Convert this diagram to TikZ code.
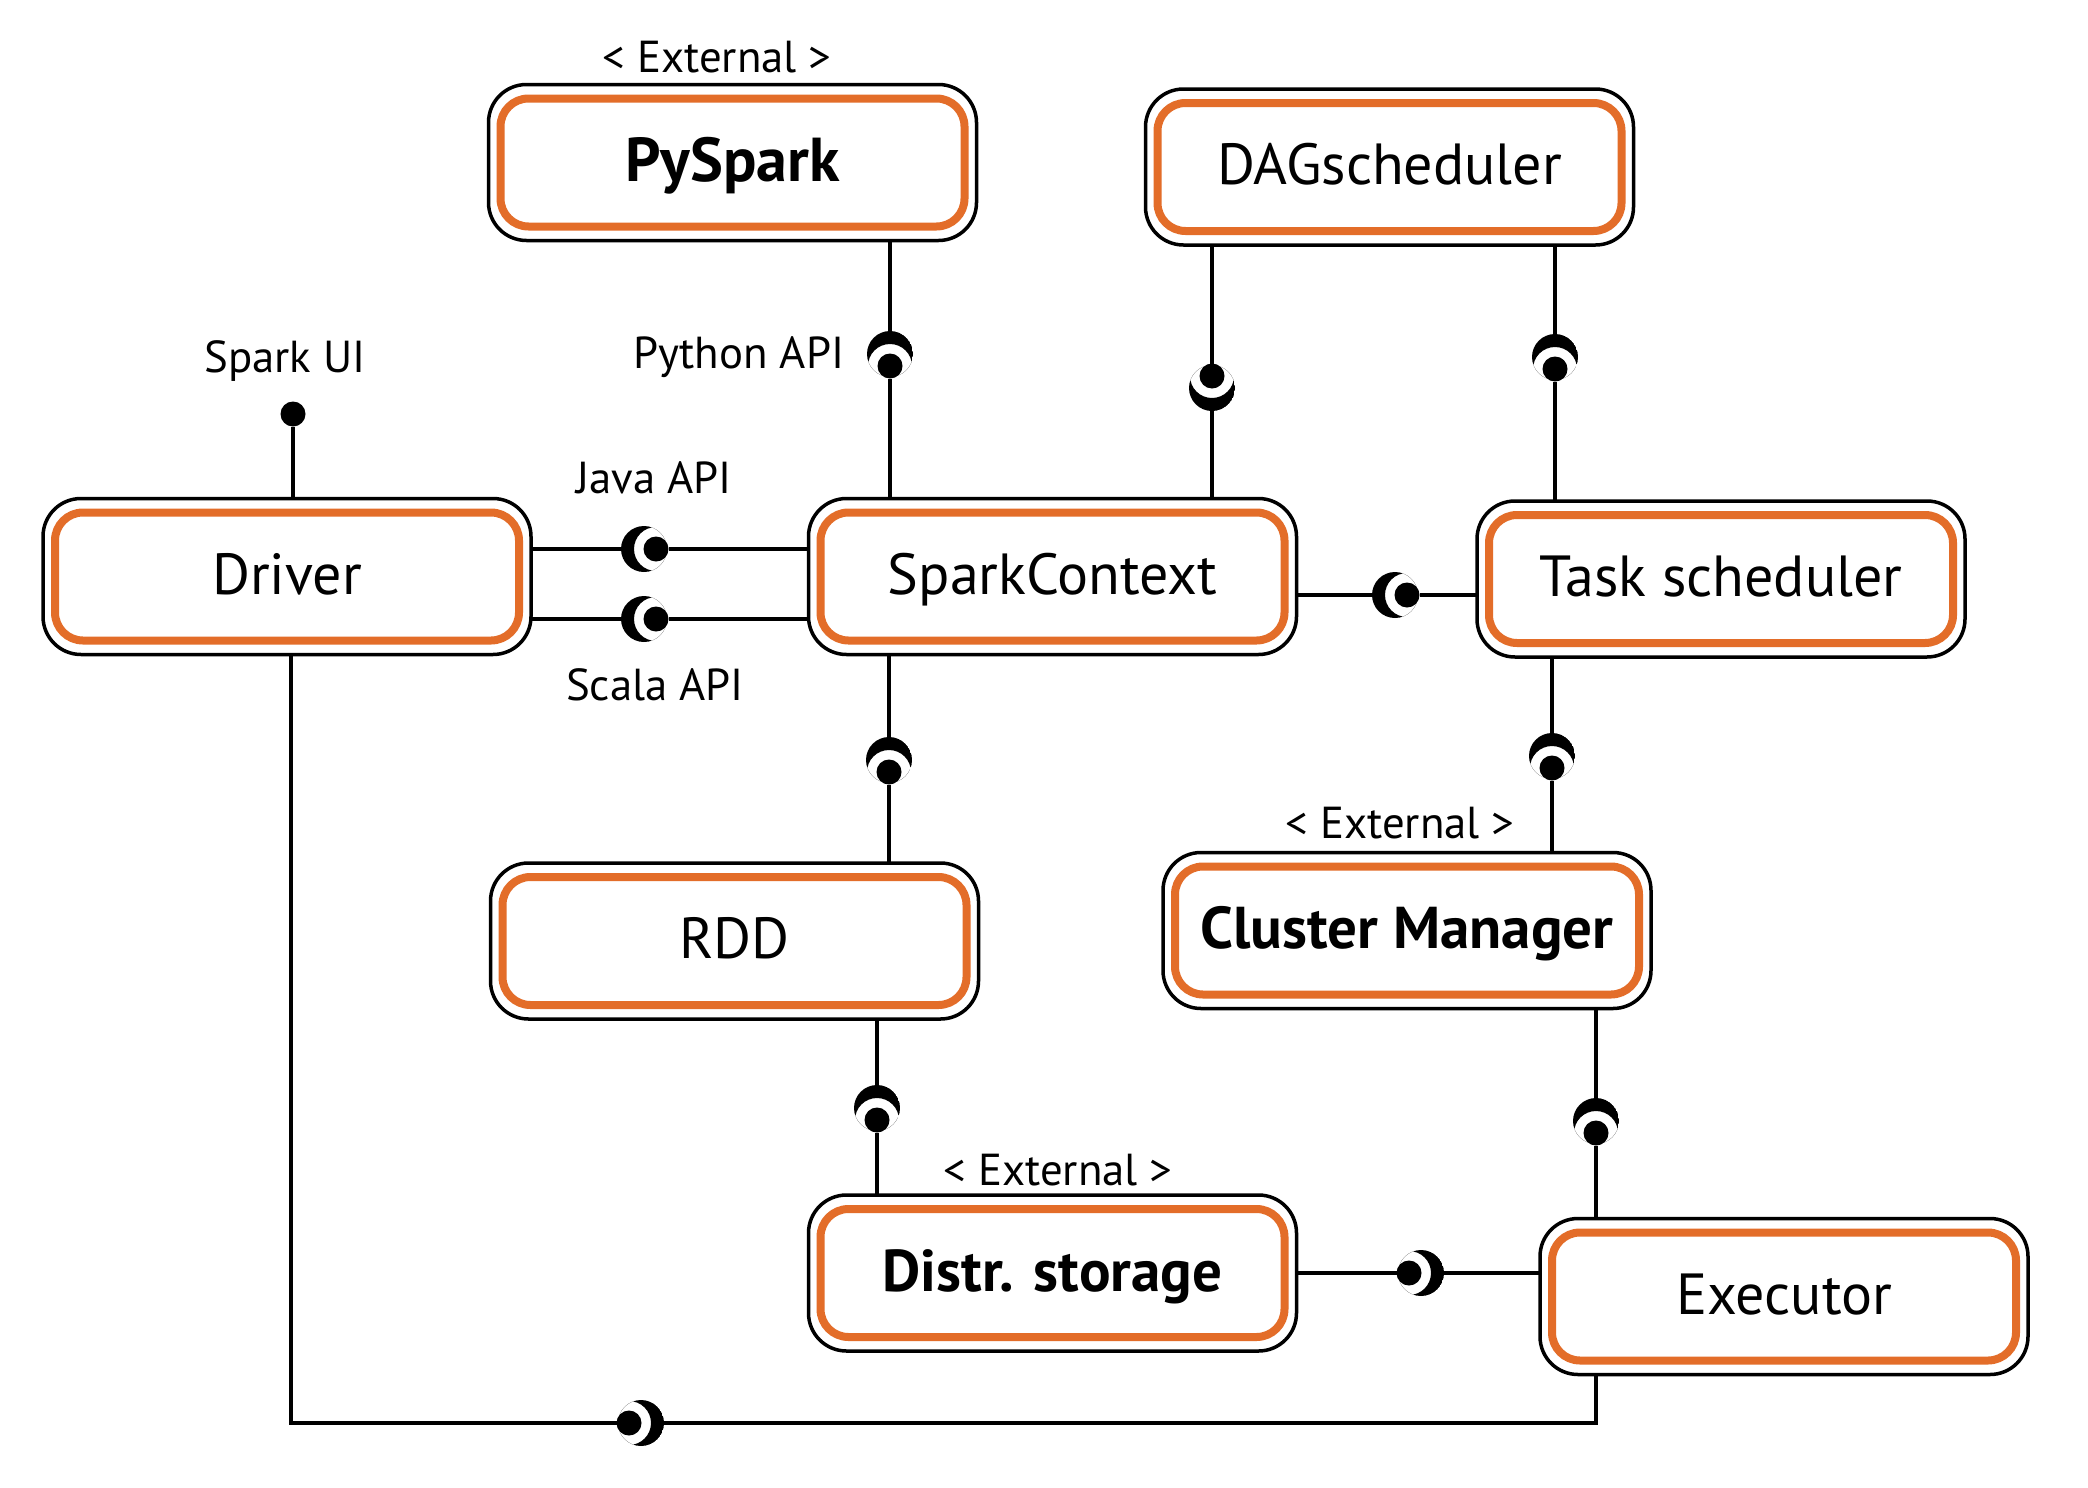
\documentclass[tikz,border=0pt]{standalone}
\usepackage{fontspec}
\setmainfont{PT Sans}
\usetikzlibrary{calc}
\definecolor{sporange}{HTML}{E36D29}
\tikzset{
  box/.style={draw=black, line width=1.75pt, fill=white, rounded corners=19pt,
    minimum width=244pt, minimum height=78pt, inner sep=0pt, outer sep=0pt,
    font=\fontsize{29}{33}\selectfont, text height=20.3pt, text depth=2.5pt},
  boldbox/.style={box, font=\fontsize{29.5}{33}\selectfont\bfseries, text height=20.6pt},
  bigboldbox/.style={box, font=\fontsize{31}{35}\selectfont\bfseries, text height=21.7pt},
  orangeline/.style={draw=sporange, line width=4pt, rounded corners=14pt},
  conn/.style={draw=black, line width=1.65pt},
  ball/.style={circle, fill=black, inner sep=0pt, outer sep=0pt, minimum size=12.5pt},
  lbl/.style={inner sep=0pt, font=\fontsize{22.4}{25}\selectfont, text height=15.7pt, text depth=0pt}
}
\newcommand{\spbox}[5]{%
  \node[#1] (#2) at (#3,#4) {#5};
  \draw[orangeline] ([xshift=6pt,yshift=-7pt]#2.north west) rectangle ([xshift=-6pt,yshift=7pt]#2.south east);}
\newcommand{\lolli}[5]{%
  \node[ball] (#1-ball) at (#2,#3) {};
  \coordinate (#1-s) at ({#2+35*(#4)},{#3+35*(#5)});
  \begin{scope}
    \clip ({#2+12*(#4)},{#3+12*(#5)}) circle[radius=11.5pt];
    \fill[even odd rule] ({#2+12*(#4)},{#3+12*(#5)}) circle[radius=11.5pt] (#2,#3) circle[radius=11pt];
  \end{scope}}
\begin{document}
\begin{tikzpicture}[x=0.5pt,y=-0.5pt]
\useasboundingbox[fill=white] (0,0) rectangle (2088,1488);

% boxes
\spbox{bigboldbox}{pyspark}{732.5}{162.5}{PySpark}
\spbox{box}{dag}{1389.5}{167}{DAGscheduler}
\spbox{box}{driver}{287}{576.5}{Driver}
\spbox{box}{sc}{1052.5}{576.5}{SparkContext}
\spbox{box}{task}{1721}{579}{Task scheduler}
\spbox{box}{rdd}{734.5}{941}{RDD}
\spbox{boldbox}{cm}{1407}{930.5}{Cluster Manager}
\spbox{boldbox}{distr}{1052.5}{1273}{Distr. storage}
\spbox{box}{exec}{1784}{1296.5}{Executor}

% labels
\node[lbl] (ext1) at (717,57) {< External >};
\node[lbl] (ext2) at (1400,823) {< External >};
\node[lbl] (ext3) at (1058,1170) {< External >};
\node[lbl] (uil) at (285,357) {Spark UI};
\node[lbl] (pyl) at (739,353) {Python API};
\node[lbl] (jvl) at (654,478) {Java API};
\node[lbl] (sll) at (655,685) {Scala API};

% Spark UI
\node[ball] (ui) at (293,414) {};
\draw[conn] (ui) -- (ui |- driver.north);

% PySpark - SparkContext
\lolli{py}{890}{366}{0}{-1}
\draw[conn] (py-s |- pyspark.south) -- (py-s);
\draw[conn] (py-ball) -- (py-ball |- sc.north);

% DAG - SparkContext
\lolli{ds}{1212}{376}{0}{1}
\draw[conn] (ds-ball) -- (ds-ball |- dag.south);
\draw[conn] (ds-s) -- (ds-s |- sc.north);

% DAG - Task
\lolli{dt}{1555}{369}{0}{-1}
\draw[conn] (dt-s |- dag.south) -- (dt-s);
\draw[conn] (dt-ball) -- (dt-ball |- task.north);

% SparkContext - Task
\lolli{st}{1407}{595}{-1}{0}
\draw[conn] (st-s -| sc.east) -- (st-s);
\draw[conn] (st-ball) -- (st-ball -| task.west);

% Java
\lolli{jv}{656}{549}{-1}{0}
\draw[conn] (jv-s -| driver.east) -- (jv-s);
\draw[conn] (jv-ball) -- (jv-ball -| sc.west);

% Scala
\lolli{sl}{656}{619}{-1}{0}
\draw[conn] (sl-s -| driver.east) -- (sl-s);
\draw[conn] (sl-ball) -- (sl-ball -| sc.west);

% SparkContext - RDD
\lolli{sr}{889}{772}{0}{-1}
\draw[conn] (sr-s |- sc.south) -- (sr-s);
\draw[conn] (sr-ball) -- (sr-ball |- rdd.north);

% RDD - Distr
\lolli{rd}{877}{1120}{0}{-1}
\draw[conn] (rd-s |- rdd.south) -- (rd-s);
\draw[conn] (rd-ball) -- (rd-ball |- distr.north);

% Task - Cluster Manager
\lolli{tc}{1552}{768}{0}{-1}
\draw[conn] (tc-s |- task.south) -- (tc-s);
\draw[conn] (tc-ball) -- (tc-ball |- cm.north);

% Cluster Manager - Executor
\lolli{ce}{1596}{1133}{0}{-1}
\draw[conn] (ce-s |- cm.south) -- (ce-s);
\draw[conn] (ce-ball) -- (ce-ball |- exec.north);

% Distr - Executor
\lolli{de}{1409}{1273}{1}{0}
\draw[conn] (de-ball -| distr.east) -- (de-ball);
\draw[conn] (de-s) -- (de-s -| exec.west);

% Driver - Executor (bottom)
\lolli{bt}{629}{1423}{1}{0}
\coordinate (dv) at (291,1423);
\coordinate (ev) at (1596,1423);
\draw[conn] (bt-ball) -- (dv) -- (dv |- driver.south);
\draw[conn] (bt-s) -- (ev) -- (ev |- exec.south);
\end{tikzpicture}
\end{document}
